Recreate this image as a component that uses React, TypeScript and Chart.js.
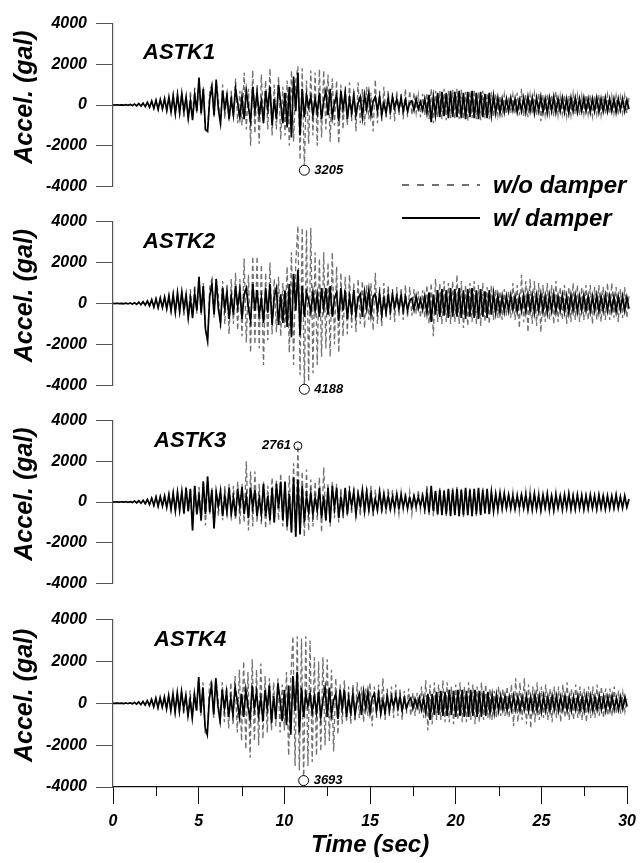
import React, { useEffect, useRef } from "react";
import { Chart, registerables } from "chart.js";

Chart.register(...registerables);

// ---------------- data ----------------
const SAMPLE_DT = 0.125; // sec between samples (8 samples per second, rows below = 1 s each)
const X_TICKS = [0, 5, 10, 15, 20, 25, 30];
const X_MINOR_TICKS = [2.5, 7.5, 12.5, 17.5, 22.5, 27.5];
const Y_TICKS = [-4000, -2000, 0, 2000, 4000];
const PANEL_NAMES = ["ASTK1", "ASTK2", "ASTK3", "ASTK4"];
const PEAK_LABELS = ["3205", "4188", "2761", "3693"];
const PEAK_INDEX = [89, 89, 86, 89];
const SERIES_NAMES = ["w/o damper", "w/ damper"];

const astk1WithoutDamper = [
  0, 0, 6, -6, 9, -11, 13, -12,
  26, -32, 46, -42, 72, -62, 92, -84,
  135, -125, 205, -175, 245, -225, 285, -205,
  325, -285, 405, -385, 485, -455, 525, -425,
  600, -600, 450, -800, 700, -500, 850, -400,
  1300, -500, 900, -1250, -1200, 700, 1000, -600,
  1100, 300, -1000, 1000, -700, 600, -800, 700,
  -600, 1300, -900, 700, -1000, 1600, -1200, 800,
  -2000, 1700, -1400, 1000, -1900, 1500, -800, 1200,
  -1200, 1800, -1500, 1000, -1200, 1400, -1700, 900,
  -1500, 1200, -2000, 1700, -1800, 1200, 1900, -2700,
  1800, -3205, 1200, -1900, 1700, -1500, 1600, -2000,
  1750, -1600, 1700, -1200, 1500, -1800, 1300, -1000,
  1200, -1900, 1000, -1200, 900, -1000, 1100, -800,
  700, -1300, 1100, -900, 800, -1000, 900, -700,
  600, -1300, 1250, -900, 700, -800, 900, -600,
  700, -700, 600, -800, 700, -500, 600, -700,
  800, -600, 700, -500, 600, -400, 500, -600,
  550, -500, 600, -700, 800, -900, 700, -600,
  700, -700, 800, -750, 700, -650, 750, -700,
  800, -700, 750, -700, 650, -800, 700, -650,
  750, -700, 650, -750, 700, -650, 600, -700,
  650, -600, 550, -500, 450, -600, 500, -450,
  400, -400, 500, -450, 600, -500, 800, -550,
  500, -600, 500, -450, 550, -500, 600, -800,
  500, -500, 550, -450, 500, -550, 650, -500,
  450, -450, 500, -550, 450, -500, 550, -450,
  500, -500, 450, -450, 500, -450, 500, -550,
  450, -450, 500, -500, 450, -450, 500, -450,
  450, -400, 450, -500, 400, -400, 450, -400,
  350,
];

const astk1WithDamper = [
  0, 0, 5, -5, 10, -10, 15, -15,
  25, -30, 45, -40, 70, -55, 90, -80,
  130, -110, 190, -160, 230, -210, 270, -190,
  300, -260, 380, -340, 450, -420, 500, -380,
  550, -300, 400, -650, 200, -750, 500, -300,
  1350, -400, 800, -1200, -1300, 300, 900, -500,
  1250, -200, -900, 700, -200, 500, -700, 300,
  -500, 800, 100, -600, 400, -700, 700, -100,
  -800, 900, -300, 600, -500, 200, -900, 700,
  -200, 900, -1000, 300, -700, 1000, 100, -900,
  600, -1100, 900, -1600, 1400, -300, 1600, -1500,
  800, -600, 500, -100, 400, -500, 300, -400,
  600, -700, 200, 700, -500, 800, -600, 100,
  500, -800, 700, -200, 600, -700, 300, -400,
  500, -500, 100, 400, -600, 500, -200, 600,
  -500, 200, 400, -300, 400, -500, 100, -400,
  350, -300, 400, -150, 300, -200, 350, -300,
  250, -300, 100, 200, -250, 300, -200, 150,
  -250, 300, -400, 500, -850, 400, -500, 600,
  -600, 650, -550, 600, -650, 700, -600, 650,
  -600, 700, -650, 600, -700, 650, -600, 700,
  -650, 600, -700, 650, -600, 550, -650, 600,
  -500, 450, -400, 350, -400, 300, -350, 300,
  -300, 350, -250, 300, -350, 250, -300, 350,
  -350, 400, -300, 350, -400, 350, -300, 400,
  -350, 300, -400, 350, -300, 400, -350, 300,
  -300, 350, -350, 300, -400, 350, -300, 350,
  -350, 300, -300, 350, -300, 300, -350, 300,
  -300, 350, -350, 300, -300, 350, -300, 300,
  -300, 300, -350, 300, -250, 300, -300, 250,
  -200,
];

const astk2WithoutDamper = [
  0, 0, 5, -7, 10, -11, 15, -17,
  24, -30, 42, -47, 68, -62, 88, -78,
  125, -120, 190, -175, 230, -205, 270, -205,
  315, -255, 380, -360, 450, -440, 530, -410,
  600, -600, 500, -800, 700, -500, 900, -500,
  1300, -600, 1000, -1300, -1900, 800, 1200, -700,
  1200, 400, -1200, 1100, -1000, 900, -1500, 1200,
  -1000, 1500, -1300, 1200, -1600, 2200, -1900, 1400,
  -2400, 2300, -2000, 2300, -2200, 1900, -3000, 1500,
  -1800, 2000, -1500, 1200, -1400, 1300, -1600, 1000,
  -1200, 1800, -2400, 2500, -3000, 2000, 3800, -3500,
  3700, -4188, 3600, -3800, 3700, -3400, 2500, -3000,
  2200, -2600, 2500, -2200, 2000, -2600, 2500, -2000,
  1800, -2400, 1500, -1600, 1300, -1500, 1400, -1200,
  1000, -1400, 1200, -1000, 1100, -1200, 900, -800,
  1000, -1300, 1500, -1000, 800, -1100, 1000, -700,
  900, -800, 700, -900, 800, -600, 700, -800,
  900, -700, 800, -600, 700, -500, 600, -700,
  650, -700, 900, -1000, 1000, -1600, 1200, -900,
  1000, -1000, 1100, -900, 1000, -1000, 1100, -900,
  1400, -1000, 1100, -1200, 900, -1100, 1000, -900,
  1100, -1000, 900, -1100, 1000, -900, 800, -1000,
  900, -800, 700, -700, 600, -800, 700, -600,
  600, -700, 1000, -800, 900, -1200, 1400, -900,
  1100, -1400, 1200, -1000, 1100, -1100, 1000, -1400,
  900, -900, 1000, -800, 900, -1000, 1100, -900,
  800, -800, 900, -1000, 800, -900, 1000, -800,
  900, -900, 800, -800, 900, -800, 900, -1000,
  800, -800, 900, -900, 800, -800, 1000, -800,
  1000, -700, 800, -900, 700, -700, 800, -700,
  400,
];

const astk2WithDamper = [
  0, 0, 4, -6, 9, -10, 14, -16,
  22, -28, 40, -45, 65, -60, 85, -75,
  120, -115, 185, -170, 225, -200, 265, -200,
  310, -250, 370, -350, 440, -430, 520, -400,
  560, -280, 420, -700, 250, -720, 480, -350,
  1300, -450, 850, -1250, -1800, 350, 950, -550,
  1200, -250, -950, 750, -250, 550, -750, 350,
  -550, 850, -150, 650, -750, 450, 750, -250,
  -850, 950, -350, 650, -550, 250, -950, 750,
  -450, 950, -1050, 350, 750, -1050, 450, -950,
  650, -1150, 950, -1650, 1450, -350, 1650, -1550,
  850, -650, 550, 150, -450, 550, -350, 450,
  -650, 750, -250, 750, -550, 850, -650, 250,
  550, -850, 750, -350, 650, -750, 350, -450,
  650, -550, 250, 450, -650, 550, -250, 650,
  -550, 350, 450, -350, 450, -550, 250, -450,
  400, -350, 450, -200, 350, -250, 400, -350,
  300, -350, 150, 250, -300, 350, -250, 200,
  -300, 350, -450, 550, -900, 450, -550, 650,
  -650, 700, -600, 650, -700, 750, -650, 700,
  -650, 750, -700, 650, -750, 700, -650, 750,
  -700, 650, -750, 700, -650, 600, -700, 650,
  -550, 500, -450, 400, -450, 350, -400, 350,
  -350, 400, -300, 350, -400, 300, -350, 400,
  -400, 450, -350, 400, -450, 400, -350, 450,
  -400, 350, -450, 400, -350, 450, -400, 350,
  -350, 400, -400, 350, -450, 400, -350, 400,
  -400, 350, -350, 400, -350, 350, -400, 350,
  -350, 400, -400, 350, -350, 400, -350, 350,
  -350, 350, -400, 350, -300, 350, -350, 300,
  -250,
];

const astk3WithoutDamper = [
  0, 0, 6, -7, 13, -11, 16, -15,
  22, -32, 48, -42, 64, -63, 84, -88,
  130, -125, 190, -175, 250, -220, 270, -210,
  300, -280, 380, -360, 450, -460, 500, -420,
  560, -600, 750, -500, 700, -1400, 850, -650,
  750, -950, 1050, -1150, 1250, -600, 700, -1300,
  600, -700, 700, -900, 800, -700, 900, -700,
  800, -900, 1000, -1100, 900, -1000, 2000, -1400,
  1500, -1200, 1500, -1000, 900, -1100, 1000, -1300,
  800, -1100, 1200, -1000, 1100, -900, 1400, -1200,
  900, -1400, 1300, -1500, 1900, -1700, 2761, -1600,
  1500, -1700, 1600, -1400, 1100, -1200, 1000, -900,
  1200, -1500, 1700, -1000, 900, -1200, 1000, -800,
  900, -1000, 700, -800, 600, -700, 800, -600,
  700, -800, 600, -700, 500, -600, 700, -500,
  800, -700, 600, -500, 700, -600, 500, -600,
  700, -500, 600, -500, 400, -600, 500, -400,
  500, -400, 500, -600, 400, -500, 600, -400,
  500, -600, 800, -700, 600, -700, 600, -650,
  700, -650, 600, -700, 650, -600, 700, -650,
  750, -700, 650, -750, 700, -650, 750, -700,
  650, -700, 600, -650, 700, -600, 650, -550,
  500, -450, 400, -500, 450, -400, 500, -400,
  450, -400, 500, -450, 400, -500, 450, -400,
  550, -450, 600, -450, 450, -400, 500, -450,
  450, -400, 450, -500, 400, -450, 500, -400,
  400, -450, 400, -350, 450, -400, 350, -400,
  400, -350, 400, -400, 350, -400, 350, -350,
  350, -400, 350, -300, 400, -350, 300, -350,
  300, -300, 350, -300, 300, -250, 300, -250,
  100,
];

const astk3WithDamper = [
  0, 0, 5, -6, 12, -10, 15, -14,
  20, -30, 45, -40, 60, -60, 80, -85,
  125, -120, 180, -170, 240, -210, 260, -200,
  290, -270, 360, -350, 430, -440, 480, -400,
  520, -560, 700, -450, 650, -1400, 800, -600,
  300, -900, 1000, -600, 1250, -500, 600, -1300,
  500, -200, 550, -700, 300, -500, 700, -600,
  200, -700, 650, -250, 750, -600, 300, -800,
  700, -300, 600, -700, 200, -600, 900, -700,
  300, -900, 700, -1000, 900, -300, 1000, -900,
  1000, -1200, 400, -1500, 1200, -1700, 1100, -1600,
  800, -1000, 300, -500, 400, -600, 200, -400,
  700, -800, 300, -900, 700, -1000, 800, -300,
  700, -800, 200, -500, 700, -600, 500, -200,
  500, -600, 400, -200, 600, -450, 500, -400,
  400, -450, 150, -400, 500, -350, 400, -300,
  300, -350, 250, -300, 400, -300, 350, -250,
  250, -300, 200, -250, 300, -200, 250, -200,
  300, -350, 450, -500, 800, -450, 550, -600,
  600, -650, 550, -600, 650, -700, 600, -650,
  650, -700, 600, -650, 700, -650, 600, -700,
  650, -600, 700, -650, 600, -550, 650, -600,
  500, -450, 400, -350, 450, -300, 400, -300,
  350, -300, 300, -350, 300, -250, 350, -300,
  350, -400, 300, -350, 400, -350, 300, -400,
  350, -300, 400, -350, 300, -400, 350, -300,
  300, -350, 350, -300, 400, -350, 300, -350,
  350, -300, 300, -350, 300, -300, 350, -300,
  300, -350, 350, -300, 300, -350, 300, -300,
  300, -300, 350, -300, 250, -300, 300, -250,
  150,
];

const astk4WithoutDamper = [
  0, 0, 7, -5, 10, -13, 15, -14,
  26, -28, 44, -40, 70, -60, 92, -86,
  130, -110, 195, -170, 245, -215, 275, -195,
  305, -275, 395, -360, 470, -430, 520, -390,
  600, -560, 420, -650, 620, -760, 500, -400,
  1250, -600, 1000, -1400, -1500, 800, 1100, -700,
  1200, 300, -1000, 1000, -900, 800, -1200, 1000,
  -1000, 1300, -1400, 1600, -1800, 2000, -2200, 1500,
  -2600, 2100, -1800, 1600, -2000, 1900, -1700, 1300,
  -1400, 1200, -1300, 1000, -1100, 1200, -1400, 900,
  -1300, 1500, -2500, 1200, 3200, -3000, 3200, -3200,
  3100, -3693, 3200, -3000, 3000, -2800, 2200, -2500,
  2000, -2300, 2200, -2000, 2100, -1800, 1600, -2300,
  1200, -1500, 900, -1000, 1100, -900, 800, -1000,
  900, -800, 1000, -700, 800, -900, 700, -600,
  1000, -1100, 800, -700, 900, -600, 1200, -800,
  700, -600, 800, -700, 900, -600, 700, -800,
  600, -500, 700, -600, 500, -600, 500, -500,
  800, -700, 1100, -1300, 900, -1000, 1000, -800,
  900, -800, 1100, -900, 1000, -900, 800, -1000,
  900, -800, 1000, -900, 800, -900, 1000, -800,
  900, -1000, 800, -900, 1000, -800, 900, -700,
  700, -800, 600, -700, 800, -600, 700, -600,
  800, -700, 900, -1100, 1200, -900, 1000, -800,
  1200, -1000, 900, -1200, 800, -900, 1000, -800,
  800, -700, 900, -800, 700, -900, 800, -700,
  800, -900, 900, -700, 1000, -800, 700, -800,
  900, -700, 800, -800, 700, -900, 800, -700,
  800, -700, 900, -600, 800, -700, 700, -600,
  700, -600, 800, -500, 600, -500, 500, -400,
  200,
];

const astk4WithDamper = [
  0, 0, 6, -4, 9, -12, 14, -13,
  24, -26, 42, -38, 66, -58, 88, -82,
  125, -105, 185, -165, 235, -205, 265, -185,
  295, -265, 385, -345, 455, -415, 505, -375,
  560, -250, 380, -600, 180, -700, 450, -350,
  1250, -450, 750, -1150, -1500, 250, 850, -550,
  1200, -150, -850, 650, -250, 550, -650, 250,
  -550, 750, 150, -650, 450, -650, 650, -150,
  -750, 850, -250, 550, -550, 250, -850, 650,
  -250, 850, -950, 350, -750, 950, 150, -850,
  650, -1050, 850, -1500, 1300, -350, 1500, -1400,
  750, -650, 450, -150, 450, -450, 350, -450,
  550, -650, 150, 750, -650, 750, -550, 150,
  450, -750, 650, -250, 650, -650, 250, -450,
  450, -550, 150, 450, -550, 550, -250, 550,
  -450, 250, 450, -350, 450, -500, 150, -450,
  350, -350, 300, -150, 350, -250, 300, -350,
  250, -250, 100, 250, -250, 200, -200, 250,
  -300, 250, -450, 450, -800, 450, -550, 550,
  -550, 600, -600, 550, -600, 650, -550, 600,
  -650, 650, -600, 650, -650, 600, -650, 650,
  -600, 650, -650, 600, -650, 600, -600, 550,
  -450, 400, -450, 400, -350, 350, -300, 350,
  -350, 300, -300, 350, -300, 300, -350, 300,
  -300, 350, -350, 300, -350, 400, -350, 350,
  -400, 350, -350, 300, -350, 350, -300, 350,
  -350, 300, -300, 350, -350, 300, -350, 300,
  -300, 350, -350, 300, -350, 350, -300, 350,
  -350, 300, -300, 350, -300, 300, -350, 300,
  -300, 350, -300, 250, -300, 300, -250, 300,
  -150,
];

const WITHOUT_DAMPER = [astk1WithoutDamper, astk2WithoutDamper, astk3WithoutDamper, astk4WithoutDamper];
const WITH_DAMPER = [astk1WithDamper, astk2WithDamper, astk3WithDamper, astk4WithDamper];

// ---------------- layout ----------------
const PAGE_W = 644;
const PAGE_H = 863;
const PLOT_LEFT = 113;
const PLOT_RIGHT = 629;
const PANEL_TOP = [19, 217, 416, 615];
const PANEL_BOTTOM = [191, 390, 588, 787];
const PAD = 14;
const NAME_X = [143, 143, 154, 154];
const NAME_DY = [29, 20, 20, 20];
const PEAK_SIDE = ["right", "right", "left", "right"];
const FONT = '"Liberation Sans", Arial, sans-serif';
const DASH_COLOR = "#707070";

function toPoints(arr: number[]) {
  return arr.map((v, i) => ({ x: i * SAMPLE_DT, y: v }));
}

function Panel({ idx }: { idx: number }) {
  const ref = useRef<HTMLCanvasElement | null>(null);
  const isLast = idx === 3;
  const canvasTop = PANEL_TOP[idx] - PAD;
  const canvasH = isLast ? PAGE_H - canvasTop : PANEL_BOTTOM[idx] - PANEL_TOP[idx] + 2 * PAD;

  useEffect(() => {
    const canvas = ref.current;
    if (!canvas) return;
    const without = WITHOUT_DAMPER[idx];
    const withD = WITH_DAMPER[idx];
    const pk = PEAK_INDEX[idx];
    const peakPoint = { x: pk * SAMPLE_DT, y: without[pk] };

    const textPlugin = {
      id: "panelText" + idx,
      afterDatasetsDraw(chart: any) {
        const { ctx, chartArea } = chart;
        const xs = chart.scales.x;
        const ys = chart.scales.y;
        ctx.save();
        ctx.fillStyle = "#000";
        // panel name
        ctx.font = `italic bold 22px ${FONT}`;
        ctx.textAlign = "left";
        ctx.textBaseline = "middle";
        ctx.fillText(PANEL_NAMES[idx], NAME_X[idx], chartArea.top + NAME_DY[idx]);
        // y title
        ctx.save();
        ctx.translate(25, (chartArea.top + chartArea.bottom) / 2 - 8);
        ctx.rotate(-Math.PI / 2);
        ctx.font = `italic bold 25px ${FONT}`;
        ctx.textAlign = "center";
        ctx.textBaseline = "middle";
        ctx.fillText("Accel. (gal)", 0, 0);
        ctx.restore();
        // peak label
        const px = xs.getPixelForValue(peakPoint.x);
        const py = ys.getPixelForValue(peakPoint.y);
        ctx.font = `italic bold 13px ${FONT}`;
        ctx.textBaseline = "middle";
        if (PEAK_SIDE[idx] === "right") {
          ctx.textAlign = "left";
          ctx.fillText(PEAK_LABELS[idx], px + 10, py);
        } else {
          ctx.textAlign = "right";
          ctx.fillText(PEAK_LABELS[idx], px - 7, py);
        }
        if (isLast) {
          // minor ticks
          ctx.strokeStyle = "#111";
          ctx.lineWidth = 1;
          ctx.beginPath();
          for (const t of X_MINOR_TICKS) {
            const x = Math.round(xs.getPixelForValue(t)) + 0.5;
            ctx.moveTo(x, chartArea.bottom);
            ctx.lineTo(x, chartArea.bottom + 9);
          }
          ctx.stroke();
          ctx.font = `italic bold 24px ${FONT}`;
          ctx.textAlign = "center";
          ctx.textBaseline = "middle";
          ctx.fillText("Time (sec)", (chartArea.left + chartArea.right) / 2, chartArea.bottom + 58);
        }
        ctx.restore();
      },
    };

    const tickFont = { family: FONT, size: 16, style: "italic" as const, weight: "bold" as const };

    const chart = new Chart(canvas, {
      type: "line",
      data: {
        datasets: [
          {
            label: "peak",
            data: [peakPoint],
            showLine: false,
            pointRadius: idx === 2 ? 4 : 5,
            pointBorderColor: "#000",
            pointBackgroundColor: idx === 2 ? "rgba(255,255,255,0)" : "#fff",
            pointBorderWidth: 1,
            order: 0,
            clip: false,
          } as any,
          {
            label: SERIES_NAMES[1],
            data: toPoints(withD),
            borderColor: "#000",
            borderWidth: 1.7,
            pointRadius: 0,
            tension: 0,
            order: 1,
            clip: false,
          },
          {
            label: SERIES_NAMES[0],
            data: toPoints(without),
            borderColor: DASH_COLOR,
            borderWidth: 1.3,
            borderDash: [5, 3],
            pointRadius: 0,
            tension: 0,
            order: 2,
            clip: false,
          },
        ],
      },
      options: {
        animation: false,
        responsive: false,
        events: [],
        layout: { padding: { top: PAD, bottom: isLast ? 0 : PAD, left: 0, right: PAGE_W - PLOT_RIGHT } },
        plugins: { legend: { display: false }, tooltip: { enabled: false } },
        scales: {
          x: {
            type: "linear",
            min: 0,
            max: 30,
            display: isLast,
            afterBuildTicks: (scale: any) => {
              scale.ticks = X_TICKS.map((v) => ({ value: v }));
            },
            afterFit: (scale: any) => {
              scale.height = isLast ? PAGE_H - PANEL_BOTTOM[3] : 0;
            },
            grid: { drawOnChartArea: false, drawTicks: true, tickLength: 17, color: "#111", lineWidth: 1 },
            border: { display: true, color: "#111", width: 1.2 },
            ticks: {
              autoSkip: false,
              maxRotation: 0,
              padding: 8,
              color: "#000",
              font: tickFont,
              callback: (v: any) => String(v),
            },
          },
          y: {
            type: "linear",
            min: -4000,
            max: 4000,
            afterBuildTicks: (scale: any) => {
              scale.ticks = Y_TICKS.map((v) => ({ value: v }));
            },
            afterFit: (scale: any) => {
              scale.width = PLOT_LEFT;
            },
            grid: { drawOnChartArea: false, drawTicks: true, tickLength: 17, color: "#555", lineWidth: 1 },
            border: { display: true, color: "#555", width: 1.2 },
            ticks: {
              padding: 9,
              color: "#000",
              font: tickFont,
              callback: (v: any) => String(v),
            },
          },
        },
      } as any,
      plugins: [textPlugin],
    });
    return () => chart.destroy();
  }, [idx]);

  return (
    <canvas
      ref={ref}
      width={PAGE_W}
      height={canvasH}
      style={{ position: "absolute", left: 0, top: canvasTop, width: PAGE_W, height: canvasH }}
    />
  );
}

function Legend() {
  const textStyle: React.CSSProperties = {
    position: "absolute",
    left: 493,
    fontFamily: FONT,
    fontStyle: "italic",
    fontWeight: "bold",
    fontSize: 24,
    lineHeight: "28px",
    color: "#000",
    whiteSpace: "nowrap",
  };
  return (
    <>
      <div
        style={{
          position: "absolute",
          left: 402,
          top: 184,
          width: 78,
          height: 1.5,
          background: `repeating-linear-gradient(to right, ${DASH_COLOR} 0px, ${DASH_COLOR} 7px, transparent 7px, transparent 15px)`,
        }}
      />
      <div style={{ ...textStyle, top: 171 }}>{SERIES_NAMES[0]}</div>
      <div style={{ position: "absolute", left: 402, top: 217, width: 78, height: 2, background: "#000" }} />
      <div style={{ ...textStyle, top: 204 }}>{SERIES_NAMES[1]}</div>
    </>
  );
}

export default function App() {
  return (
    <div style={{ position: "absolute", left: 0, top: 0, width: PAGE_W, height: PAGE_H, background: "#fff", overflow: "hidden" }}>
      {[0, 1, 2, 3].map((i) => (
        <Panel key={i} idx={i} />
      ))}
      <Legend />
    </div>
  );
}
